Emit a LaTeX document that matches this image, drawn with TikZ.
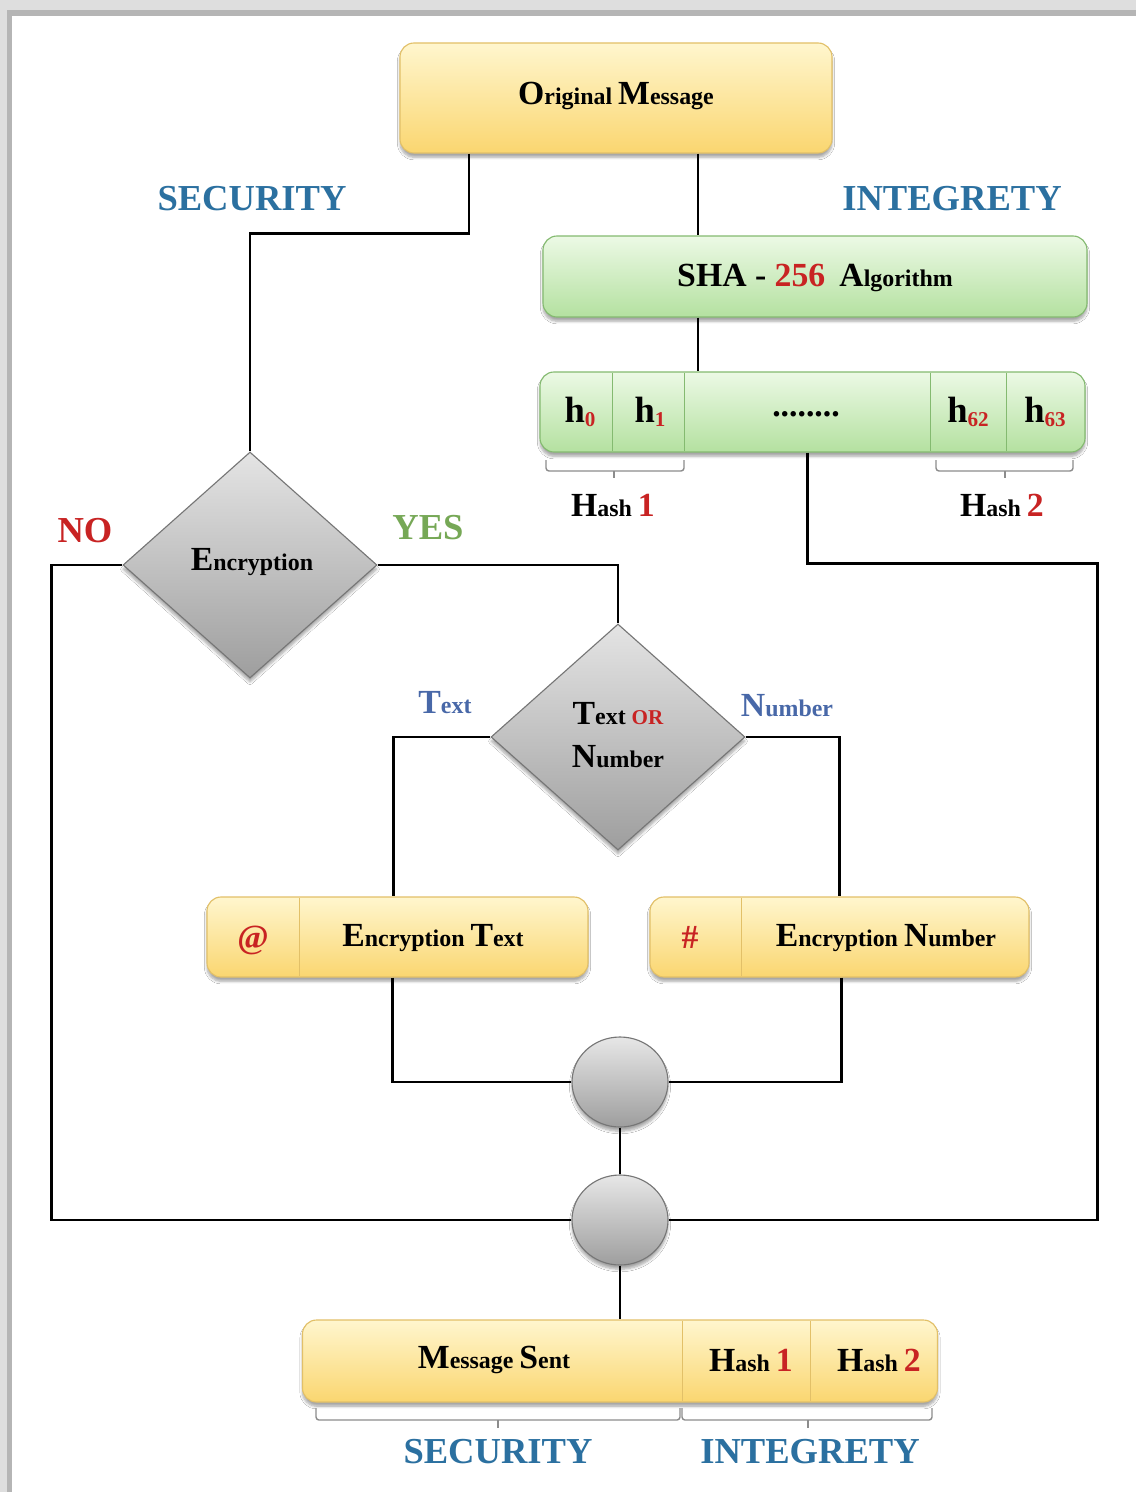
\documentclass[tikz,border=0pt]{standalone}
\usepackage{fontspec}
\setmainfont{Liberation Serif}
\usetikzlibrary{shapes.geometric,shadows.blur,calc}

\newdimen\pxu \pxu=0.025cm

\definecolor{secblue}{RGB}{43,112,160}
\definecolor{accred}{RGB}{200,35,35}
\definecolor{yesgreen}{RGB}{118,168,86}
\definecolor{lblblue}{RGB}{72,104,168}
\definecolor{ytop}{RGB}{255,246,206}
\definecolor{ybot}{RGB}{250,214,112}
\definecolor{yline}{RGB}{226,192,104}
\definecolor{gtop}{RGB}{236,249,229}
\definecolor{gbot}{RGB}{180,225,160}
\definecolor{gline}{RGB}{132,186,112}
\definecolor{dtop}{RGB}{228,228,228}
\definecolor{dbot}{RGB}{158,158,158}
\definecolor{dline}{RGB}{118,118,118}
\definecolor{bandlight}{RGB}{222,222,222}
\definecolor{banddark}{RGB}{181,181,181}
\definecolor{brk}{RGB}{140,140,140}

% text helpers: large initial letter followed by smaller letters
\newcommand{\bigsz}{\fontsize{24}{28}\selectfont}
\newcommand{\smsz}{\fontsize{17}{20}\selectfont}
\newcommand{\ini}[2]{{\bigsz #1}{\smsz #2}}
\newcommand{\hsub}[1]{{\fontsize{26}{28}\selectfont h}{\fontsize{15}{15}\selectfont\raisebox{-3pt}{\color{accred}#1}}}
\newcommand{\rednum}[1]{{\bigsz\color{accred}#1}}

\tikzset{
  shade/.style={blur shadow={shadow xshift=0pt, shadow yshift=-3pt, shadow opacity=35, shadow blur steps=6}},
  ybox/.style={rectangle, rounded corners=14\pxu, draw=yline, line width=0.8pt,
    top color=ytop, bottom color=ybot, shade, inner sep=0pt},
  gbox/.style={rectangle, rounded corners=14\pxu, draw=gline, line width=0.8pt,
    top color=gtop, bottom color=gbot, shade, inner sep=0pt},
  decision/.style={diamond, draw=dline, line width=0.8pt, top color=dtop, bottom color=dbot,
    shade, inner sep=0pt, minimum width=254\pxu, minimum height=226\pxu, aspect=1.12},
  junction/.style={ellipse, draw=dline, line width=0.8pt, top color=dtop!90!white, bottom color=dbot,
    shade, inner sep=0pt, minimum width=96\pxu, minimum height=90\pxu},
  txt/.style={font=\smsz\bfseries, inner sep=0pt, text=black},
  lbl/.style={font=\fontsize{26}{28}\selectfont\bfseries, inner sep=0pt},
  conn/.style={draw=black, line width=2.1pt},
  divg/.style={draw=gline, line width=0.7pt},
  divy/.style={draw=yline, line width=0.7pt},
  bracket/.style={draw=brk, line width=1pt, rounded corners=3\pxu},
}

\begin{document}
\begin{tikzpicture}[x=\pxu, y=-\pxu]
  % canvas and frame edges
  \fill[white] (0,0) rectangle (1136,1492);
  \useasboundingbox (0,0) rectangle (1136,1492);
  \fill[bandlight] (0,0) rectangle (1136,10);
  \fill[banddark] (0,10) rectangle (1136,16);
  \fill[bandlight] (0,0) rectangle (7,1492);
  \fill[banddark] (7,10) rectangle (12,1492);

  % boxes
  \node[ybox, minimum width=432\pxu, minimum height=110\pxu] (orig) at (616,98) {};
  \node[txt] (origt) at (616,96) {\ini{O}{riginal} \ini{M}{essage}};

  \node[gbox, minimum width=544\pxu, minimum height=81\pxu] (sha) at (815,276.5) {};
  \node[txt] (shat) at (815,278) {{\bigsz SHA - \rednum{256}}\hspace{10pt}\ini{A}{lgorithm}};

  \node[gbox, minimum width=545\pxu, minimum height=80\pxu] (hbar) at (812.5,412) {};
  \draw[divg] (612,373) -- (612,451);
  \draw[divg] (684,373) -- (684,451);
  \draw[divg] (930,373) -- (930,451);
  \draw[divg] (1006,373) -- (1006,451);
  \node[txt] (h0) at (580,412) {\hsub{0}};
  \node[txt] (h1) at (650,412) {\hsub{1}};
  \node[txt] (hdots) at (806,414) {\bigsz ........};
  \node[txt] (h62) at (968,412) {\hsub{62}};
  \node[txt] (h63) at (1045,412) {\hsub{63}};

  % brackets under the hash cells
  \draw[bracket] (546,460) -- (546,471) -- (684,471) -- (684,460);
  \draw[bracket] (614,471) -- (614,478);
  \draw[bracket] (936,460) -- (936,471) -- (1073,471) -- (1073,460);
  \draw[bracket] (1005,471) -- (1005,478);
  \node[txt] (hash1) at (613,505) {\ini{H}{ash} \rednum{1}};
  \node[txt] (hash2) at (1002,505) {\ini{H}{ash} \rednum{2}};

  % decisions
  \node[decision] (enc) at (250,565) {};
  \node[txt] (enct) at (252,562) {\ini{E}{ncryption}};
  \node[decision] (tn) at (618,737) {};
  \node[txt, align=center] (tnt) at (618,735)
    {\ini{T}{ext} {\fontsize{15}{15}\selectfont\color{accred}OR}\\[10pt]\ini{N}{umber}};

  % encryption boxes
  \node[ybox, minimum width=381\pxu, minimum height=80\pxu] (etext) at (397.5,937) {};
  \draw[divy] (299,898) -- (299,976);
  \node[txt] (at) at (253,940) {\bigsz\color{accred}@};
  \node[txt] (etextt) at (433,938) {\ini{E}{ncryption} \ini{T}{ext}};

  \node[ybox, minimum width=379\pxu, minimum height=80\pxu] (enum) at (839.5,937) {};
  \draw[divy] (741,898) -- (741,976);
  \node[txt] (hashsign) at (690,937) {\bigsz\color{accred}\#};
  \node[txt] (enumt) at (886,938) {\ini{E}{ncryption} \ini{N}{umber}};

  % junctions
  \node[junction] (c1) at (620,1082) {};
  \node[junction] (c2) at (620,1220) {};

  % message sent
  \node[ybox, minimum width=635\pxu, minimum height=82\pxu] (msg) at (620,1361) {};
  \draw[divy] (682,1321) -- (682,1401);
  \draw[divy] (810,1321) -- (810,1401);
  \node[txt] (msgt) at (494,1360) {\ini{M}{essage} \ini{S}{ent}};
  \node[txt] (mh1) at (751,1360) {\ini{H}{ash} \rednum{1}};
  \node[txt] (mh2) at (879,1360) {\ini{H}{ash} \rednum{2}};

  \draw[bracket] (316,1408) -- (316,1420) -- (680,1420) -- (680,1408);
  \draw[bracket] (498,1420) -- (498,1428);
  \draw[bracket] (682,1408) -- (682,1420) -- (932,1420) -- (932,1408);
  \draw[bracket] (808,1420) -- (808,1428);

  % labels
  \node[lbl, text=secblue] (sec1) at (252,199) {SECURITY};
  \node[lbl, text=secblue] (int1) at (952,199) {INTEGRETY};
  \node[lbl, text=accred] (no) at (85,531) {NO};
  \node[lbl, text=yesgreen] (yes) at (428,528) {YES};
  \node[txt, text=lblblue] (ltext) at (445,703) {\ini{T}{ext}};
  \node[txt, text=lblblue] (lnum) at (787,706) {\ini{N}{umber}};
  \node[lbl, text=secblue] (sec2) at (498,1452) {SECURITY};
  \node[lbl, text=secblue] (int2) at (810,1452) {INTEGRETY};

  % connectors
  \draw[conn] ([xshift=-147\pxu]orig.south) -- ++(0,80) -| (enc.north);
  \draw[conn] ([xshift=82\pxu]orig.south) coordinate (o2) -- (o2 |- sha.north);
  \draw[conn] (o2 |- sha.south) -- (o2 |- hbar.north);
  \draw[conn] ([xshift=-5\pxu]hbar.south) -- ++(0,111) -- ++(290,0) |- (c2.east);
  \draw[conn] (enc.west) -- ++(-71,0) |- (c2.west);
  \draw[conn] (enc.east) -| (tn.north);
  \draw[conn] (tn.west) -| ([xshift=-4\pxu]etext.north);
  \draw[conn] (tn.east) -| (enum.north);
  \draw[conn] ([xshift=-5\pxu]etext.south) |- (c1.west);
  \draw[conn] ([xshift=2\pxu]enum.south) |- (c1.east);
  \draw[conn] (c1.south) -- (c2.north);
  \draw[conn] (c2.south) -- (msg.north);
\end{tikzpicture}
\end{document}
